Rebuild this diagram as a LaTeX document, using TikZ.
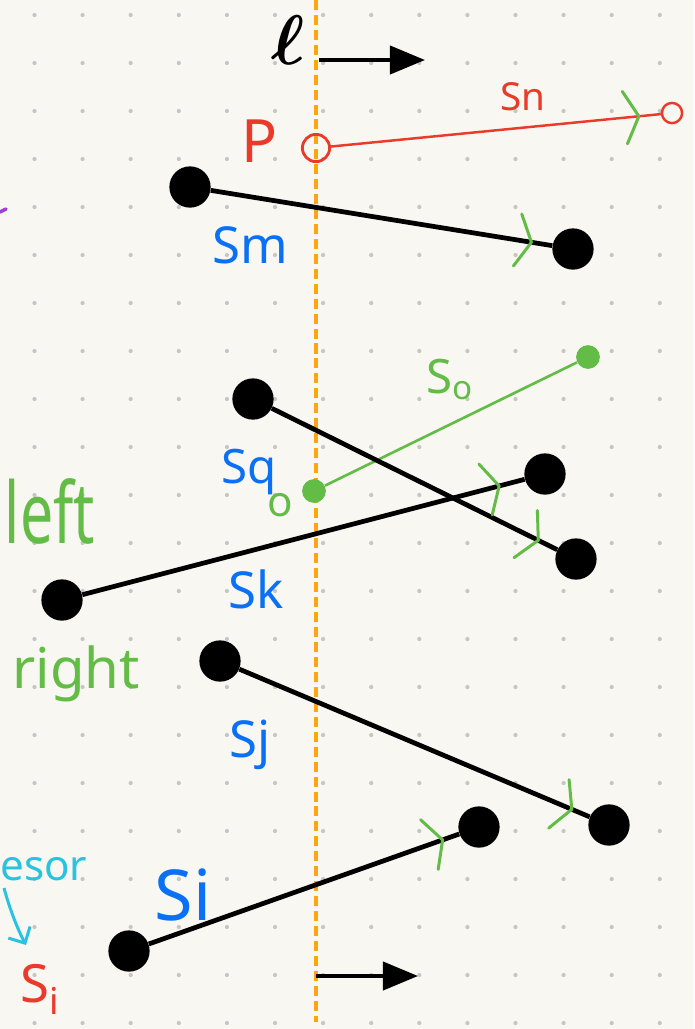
\documentclass[tikz,border=0pt]{standalone}
\usepackage{fontspec}
\setmainfont{Noto Sans}
\usetikzlibrary{arrows.meta,decorations.markings}
\definecolor{bgc}{HTML}{F9F7F2}
\definecolor{gridc}{HTML}{C6C6C4}
\definecolor{orangec}{HTML}{FFA412}
\definecolor{redc}{HTML}{EA3B2A}
\definecolor{bluec}{HTML}{0A70F5}
\definecolor{greenc}{HTML}{62BC46}
\definecolor{cyanc}{HTML}{27C3E0}
\definecolor{purplec}{HTML}{9B3FD8}
\begin{document}
\begin{tikzpicture}[x=0.02cm,y=-0.02cm,
  seg/.style={line width=2.7pt,draw=black},
  bdot/.style={circle,fill=black,minimum size=23.5pt,inner sep=0pt},
  gdot/.style={circle,fill=greenc,minimum size=13.5pt,inner sep=0pt},
  chevline/.style={draw=greenc,line width=1.7pt,line cap=round,line join=round},
  chev/.style={postaction={decorate,decoration={markings,mark=at position -#1 with {\draw[chevline] (-8pt,15pt) -- (0pt,0pt) -- (-8pt,-15pt);}}}},
  chev/.default=11pt,
  lbl/.style={text=bluec,font=\fontsize{29}{29}\selectfont\bfseries,anchor=base,inner sep=0pt},
  glbl/.style={text=greenc,anchor=base,inner sep=0pt},
  rlbl/.style={text=redc,anchor=base,inner sep=0pt},
  dirarrow/.style={line width=2.3pt,draw=black,-{Triangle[length=20pt,width=16pt]}},
  sweep/.style={draw=orangec,line width=2.6pt,dash pattern=on 5.7pt off 2.8pt}
]
% background and grid
\fill[bgc] (0,0) rectangle (694,1029);
\useasboundingbox (0,0) rectangle (694,1029);
\foreach \i in {0,...,13}{
  \foreach \j in {0,...,21}{
    \fill[gridc] (34.5+48.1*\i,15+48*\j) circle[radius=1.2pt];
  }
}
% sweep line
\coordinate (l1) at (316,0);
\coordinate (l2) at (316,1022);
\draw[sweep] (l1) -- (l2);
\node[inner sep=0pt,anchor=base] (ell) at (288,64) {\scalebox{4}{\boldmath$\ell$}};
\coordinate (ta1) at (319,60);
\coordinate (ta2) at (425,60);
\draw[dirarrow] (ta1) -- (ta2);
\coordinate (ba1) at (316,976);
\coordinate (ba2) at (418,976);
\draw[dirarrow] (ba1) -- (ba2);
% purple mark
\coordinate (pu1) at (0,212);
\coordinate (pu2) at (6,209);
\draw[purplec,line width=2pt,line cap=round] (pu1) -- (pu2);
% Sn (red)
\node[circle,draw=redc,line width=1.6pt,minimum size=15.5pt,inner sep=0pt] (pc) at (316,148) {};
\node[circle,draw=redc,line width=1.4pt,minimum size=11.5pt,inner sep=0pt] (sn2) at (672,113) {};
\draw[redc,line width=1.4pt,chev=12.5pt] (pc) -- (sn2);
\node[rlbl,font=\fontsize{34}{34}\selectfont] (tP) at (260,162) {P};
\node[rlbl,font=\fontsize{22}{22}\selectfont] (tSn) at (523,110) {Sn};
% Sm
\node[bdot] (m1) at (190,187) {};
\node[bdot] (m2) at (573,249) {};
\draw[seg,chev=12pt] (m1) -- (m2);
\node[lbl] (tSm) at (250,263) {Sm};
% So (green)
\node[gdot] (o1) at (314,491) {};
\node[gdot] (o2) at (588,357) {};
\draw[greenc,line width=1.5pt] (o1) -- (o2);
\node[glbl,font=\fontsize{27}{27}\selectfont] (tSo) at (450,393) {S\textsubscript{o}};
\node[glbl,font=\fontsize{24}{24}\selectfont] (to) at (280,516) {o};
% Sq
\node[bdot] (q1) at (253,399) {};
\node[bdot] (q2) at (576,559) {};
\draw[seg,chev=12pt] (q1) -- (q2);
\node[lbl,font=\fontsize{27}{27}\selectfont\bfseries] (tSq) at (249,483) {Sq};
% Sk
\node[bdot] (k1) at (62,600) {};
\node[bdot] (k2) at (545,474) {};
\draw[seg,chev=15pt] (k1) -- (k2);
\node[lbl] (tSk) at (256,608) {Sk};
% left / right
\node[glbl] (tleft) at (50,543) {\scalebox{0.8}[1.15]{\fontsize{42}{42}\selectfont left}};
\node[glbl,font=\fontsize{32}{32}\selectfont] (tright) at (76,688) {right};
% Sj
\node[bdot] (j1) at (220,661) {};
\node[bdot] (j2) at (609,825) {};
\draw[seg,chev=11pt] (j1) -- (j2);
\node[lbl] (tSj) at (250,757) {Sj};
% Si
\node[bdot] (i1) at (129,951) {};
\node[bdot] (i2) at (479,827) {};
\draw[seg,chev=10pt] (i1) -- (i2);
\node[lbl,font=\fontsize{40}{40}\selectfont\bfseries] (tSi) at (183,920) {Si};
% sucesor annotation
\node[anchor=base west,inner sep=0pt,text=cyanc,font=\fontsize{24}{24}\selectfont] (tesor) at (0,880) {esor};
\coordinate (ca1) at (4,888);
\coordinate (ca2) at (26,945);
\draw[cyanc,line width=1.7pt,-{Straight Barb[length=7pt,width=14pt]}] (ca1) .. controls (10,910) and (18,930) .. (ca2);
\node[anchor=base west,inner sep=0pt,text=redc,font=\fontsize{30}{30}\selectfont] (tSired) at (20,1002) {S\textsubscript{i}};
\end{tikzpicture}
\end{document}
